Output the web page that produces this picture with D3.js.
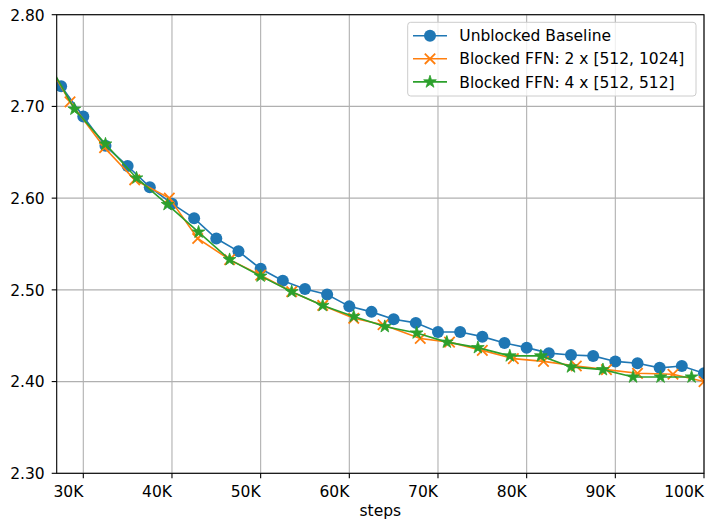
<!DOCTYPE html>
<html><head><meta charset="utf-8">
<script src="https://cdn.jsdelivr.net/npm/d3@7"></script>
<style>html,body{margin:0;padding:0;background:#fff;}svg{display:block;font-family:"DejaVu Sans",sans-serif;}</style>
</head><body>
<svg id="c" width="705" height="519"></svg>
<script>
// ---- data ----
const seriesNames = ["Unblocked Baseline", "Blocked FFN: 2 x [512, 1024]", "Blocked FFN: 4 x [512, 512]"];
const baselineSteps = [27500,30000,32500,35000,37500,40000,42500,45000,47500,50000,52500,55000,57500,60000,62500,65000,67500,70000,72500,75000,77500,80000,82500,85000,87500,90000,92500,95000,97500,100000];
const baselineLoss = [2.722,2.689,2.657,2.635,2.612,2.594,2.578,2.556,2.542,2.523,2.510,2.501,2.495,2.482,2.476,2.468,2.464,2.454,2.454,2.449,2.442,2.437,2.431,2.429,2.428,2.422,2.420,2.415,2.417,2.409];
const ffn2Steps = [25000,28500,32400,35800,39700,42900,46500,50000,53500,57000,60500,63800,68000,71300,75000,78500,81900,85600,89000,92500,96500,100000];
const ffn2Loss = [2.763,2.705,2.655,2.620,2.600,2.556,2.533,2.516,2.498,2.483,2.469,2.462,2.447,2.443,2.434,2.425,2.422,2.417,2.413,2.409,2.408,2.400];
const ffn4Steps = [25500,29000,32500,36000,39500,43000,46500,50000,53500,57000,60500,64000,67600,71000,74500,78100,81600,85000,88600,92000,95100,98600];
const ffn4Loss = [2.757,2.697,2.659,2.622,2.593,2.563,2.533,2.515,2.498,2.483,2.471,2.460,2.453,2.443,2.437,2.428,2.428,2.416,2.413,2.405,2.405,2.405];
const xTicks = [30000,40000,50000,60000,70000,80000,90000,100000];
const xTickLabels = ["30K","40K","50K","60K","70K","80K","90K","100K"];
const yTicks = [2.30,2.40,2.50,2.60,2.70,2.80];
const xLabel = "steps";
const colors = ["#1f77b4","#ff7f0e","#2ca02c"];
const markers = ["circle","x","star"];

// ---- layout ----
const L = 56.7, R = 704, T = 14.7, B = 473.3;
const svg = d3.select("#c");
const x = d3.scaleLinear().domain([27000,100000]).range([L,R]);
const y = d3.scaleLinear().domain([2.30,2.80]).range([B,T]);
const FS = 15.5;

svg.append("defs").append("clipPath").attr("id","clip")
  .append("rect").attr("x",L).attr("y",T).attr("width",R-L).attr("height",B-T);

// grid
const grid = svg.append("g");
grid.selectAll(".gx").data(xTicks).enter().append("line")
  .attr("x1",d=>x(d)).attr("x2",d=>x(d)).attr("y1",T).attr("y2",B)
  .attr("stroke","#b0b0b0").attr("stroke-width",1.1);
grid.selectAll(".gy").data(yTicks).enter().append("line")
  .attr("x1",L).attr("x2",R).attr("y1",d=>y(d)).attr("y2",d=>y(d))
  .attr("stroke","#b0b0b0").attr("stroke-width",1.1);

// series
const series = [
  {steps: baselineSteps, loss: baselineLoss},
  {steps: ffn2Steps, loss: ffn2Loss},
  {steps: ffn4Steps, loss: ffn4Loss}
];
const plot = svg.append("g").attr("clip-path","url(#clip)");
const line = d3.line().x(d=>x(d[0])).y(d=>y(d[1]));
function drawMarker(g, type, color, cx, cy){
  if(type==="circle"){
    g.append("circle").attr("cx",cx).attr("cy",cy).attr("r",6).attr("fill",color);
  } else if(type==="x"){
    const s=5.2;
    g.append("path").attr("d",`M${cx-s},${cy-s}L${cx+s},${cy+s}M${cx-s},${cy+s}L${cx+s},${cy-s}`)
      .attr("stroke",color).attr("stroke-width",1.8).attr("fill","none");
  } else {
    g.append("path").attr("d",d3.symbol(d3.symbolStar,50)()).attr("transform",`translate(${cx},${cy})`)
      .attr("fill",color).attr("stroke",color).attr("stroke-width",0.8);
  }
}
series.forEach((s,i)=>{
  const pts = s.steps.map((v,j)=>[v,s.loss[j]]);
  const g = plot.append("g");
  g.append("path").attr("d",line(pts)).attr("fill","none").attr("stroke",colors[i]).attr("stroke-width",1.6);
  pts.forEach(p=>drawMarker(g, markers[i], colors[i], x(p[0]), y(p[1])));
});

// spines
svg.append("rect").attr("x",L).attr("y",T).attr("width",R-L).attr("height",B-T)
  .attr("fill","none").attr("stroke","#000").attr("stroke-width",1.1);

// ticks
const ax = svg.append("g").attr("font-size",FS).attr("fill","#000");
xTicks.forEach((t,i)=>{
  ax.append("line").attr("x1",x(t)).attr("x2",x(t)).attr("y1",B).attr("y2",B+5).attr("stroke","#000").attr("stroke-width",1.1);
  ax.append("text").attr("x",x(t)).attr("y",B+24).attr("text-anchor","end").text(xTickLabels[i]);
});
yTicks.forEach(t=>{
  ax.append("line").attr("x1",L-5).attr("x2",L).attr("y1",y(t)).attr("y2",y(t)).attr("stroke","#000").attr("stroke-width",1.1);
  ax.append("text").attr("x",L-12).attr("y",y(t)+5.8).attr("text-anchor","end").text(d3.format(".2f")(t));
});
ax.append("text").attr("x",(L+R)/2).attr("y",515.5).attr("text-anchor","middle").text(xLabel);

// legend
const lg = svg.append("g");
lg.append("rect").attr("x",407.7).attr("y",22.3).attr("width",288.3).attr("height",73.7).attr("rx",3)
  .attr("fill","#fff").attr("fill-opacity",0.8).attr("stroke","#cccccc").attr("stroke-width",1);
const rowsY = [35.7,58.8,81.9];
seriesNames.forEach((n,i)=>{
  const ry = rowsY[i];
  lg.append("line").attr("x1",413).attr("x2",447).attr("y1",ry).attr("y2",ry).attr("stroke",colors[i]).attr("stroke-width",1.6);
  drawMarker(lg, markers[i], colors[i], 430, ry);
  lg.append("text").attr("x",459.3).attr("y",ry+5.6).attr("font-size",FS).text(n);
});
</script>
</body></html>
